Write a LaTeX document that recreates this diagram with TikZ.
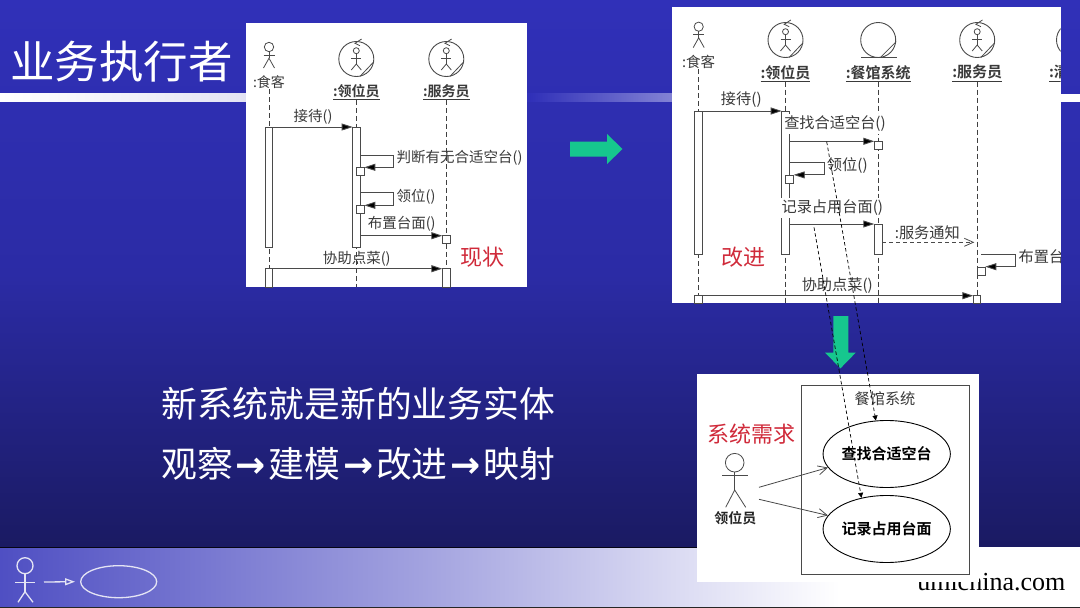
\documentclass[tikz,border=0pt]{standalone}
\usepackage{fontspec}
\setmainfont{Noto Sans CJK SC}[BoldFont={Noto Sans CJK SC Bold}]
\newfontfamily\latinserif{Liberation Serif}
\newfontfamily\arrowfont{DejaVu Sans}
\usetikzlibrary{arrows.meta,shapes.geometric,calc}
\definecolor{inkgrey}{HTML}{3A3A3A}
\definecolor{linegrey}{HTML}{4A4A4A}
\definecolor{redlabel}{HTML}{D02A3A}
\definecolor{teal}{HTML}{16C78E}
\definecolor{bgtop}{HTML}{3030B8}
\definecolor{bgbot}{HTML}{1A1A62}
\definecolor{pale}{HTML}{E4E4F4}
\tikzset{
  panel/.style={fill=white,draw=none,anchor=north west,inner sep=0pt,outer sep=0pt},
  msgtext/.style={font=\fontsize{14.5}{14.5}\selectfont,text=inkgrey,inner sep=0.5pt},
  msgbig/.style={font=\fontsize{15.2}{15.2}\selectfont,text=inkgrey,inner sep=0.5pt},
  msgmask/.style={msgbig,fill=white,inner xsep=1pt,inner ysep=2pt},
  headtext/.style={font=\fontsize{14}{14}\selectfont\bfseries,text=inkgrey,inner sep=0pt},
  headbig/.style={font=\fontsize{15}{15}\selectfont\bfseries,text=inkgrey,inner sep=0pt},
  redtext/.style={font=\fontsize{22}{22}\selectfont,text=redlabel,inner sep=0pt},
  whitetext/.style={text=white,inner sep=0pt,anchor=west},
  lifeline/.style={draw=black!75,line width=0.7pt,dash pattern=on 5pt off 3pt},
  actbar/.style={draw=linegrey,line width=0.9pt,fill=white,anchor=north west,inner sep=0pt,outer sep=0pt},
  callbox/.style={actbar,minimum width=8pt,minimum height=8pt},
  msg/.style={draw=linegrey,line width=0.9pt,-{Triangle[length=11pt,width=7pt,fill=black]}},
  iconline/.style={draw=linegrey,line width=0.8pt},
  trace/.style={draw=black,line width=0.7pt,dash pattern=on 3.5pt off 2.5pt,-{Triangle[length=5pt,width=5pt,fill=black]}},
  openmsg/.style={draw=linegrey,line width=0.8pt,dash pattern=on 4pt off 3pt},
  usearrow/.style={draw=linegrey,line width=0.8pt,-{Straight Barb[length=9pt,width=9pt]}},
  usecase/.style={ellipse,draw=black,line width=0.9pt,minimum width=98.6pt,minimum height=67pt,inner sep=0pt,
    font=\fontsize{15}{15}\selectfont\bfseries,text=black},
  footline/.style={draw=pale,line width=1.3pt},
  greenarrow/.style={fill=teal,draw=none},
}
% stick figure: #1 x, #2 y of head centre, #3 head radius, #4 style
\newcommand{\stickfig}[4]{%
  \draw[#4] (#1,#2) circle[radius=#3];
  \draw[#4] (#1,#2+#3) -- (#1,#2+#3+6.5);
  \draw[#4] (#1-5.5,#2+#3+3.3) -- (#1+5.5,#2+#3+3.3);
  \draw[#4] (#1-5.5,#2+#3+16.3) -- (#1,#2+#3+6.5) -- (#1+5.5,#2+#3+16.3);
}
% business worker icon
\newcommand{\workericon}[3]{%
  \node[circle,draw=linegrey,line width=0.9pt,minimum size=35pt,inner sep=0pt] (#1) at (#2,#3) {};
  \draw[iconline] (#2+5.3,#3-20) -- (#2-1.3,#3-15.7) -- (#2+3.7,#3-13.3);
  \draw[iconline] (#2+3.7,#3+17.4) -- (#2+17.6,#3+2.7);
  \draw[iconline] (#2,#3-8.3) circle[radius=3];
  \draw[iconline] (#2,#3-5.3) -- (#2,#3+5) (#2-5,#3-0.7) -- (#2+5,#3-0.7);
  \draw[iconline] (#2-5,#3+11) -- (#2,#3+5) -- (#2+5,#3+11);
}
\newcommand{\bigarrow}{\makebox[35.8pt]{\arrowfont\bfseries\fontsize{36}{36}\selectfont →}}
\begin{document}
\begin{tikzpicture}[x=1pt,y=-1pt]
\useasboundingbox (0,0) rectangle (1080,608);
% background
\shade[top color=bgtop,bottom color=bgbot,middle color=bgtop!78!bgbot] (0,0) rectangle (1080,548);
% title band
\shade[left color=white,right color=pale] (0,93.5) rectangle (240,101.5);
\shade[left color=pale,right color=bgtop] (240,93.5) rectangle (530,101.5);
\shade[left color=bgtop,right color=bgtop!60!white] (530,93.5) rectangle (672,101.5);
\shade[left color=bgtop!60!white,right color=white] (672,93.5) rectangle (1060,101.5);
\fill[white] (1060,93.5) rectangle (1080,101.5);
% footer
\fill[white] (0,547) rectangle (1080,607);
\shade[left color=bgtop!85!white,right color=white,middle color=bgtop!45!white] (0,547) rectangle (840,607);
\draw[black!80!bgbot,line width=0.8pt] (0,547) -- (840,547);
\draw[black!85,line width=1pt] (0,607) -- (1080,607);
\draw[footline] (25,565.7) circle[radius=8];
\draw[footline] (25,573.7) -- (25,591.7) (15,582.3) -- (35,582.3);
\draw[footline] (18,602.3) -- (25,591.7) -- (33,602.3);
\coordinate (footstart) at (44,582);
\node[ellipse,draw=pale,line width=1.3pt,minimum width=76pt,minimum height=32pt,inner sep=0pt] (footcase) at (118.7,581.7) {};
\draw[footline,-{Triangle[open,length=10pt,width=7pt]}] (footstart) -- ($(footcase.west)+(-5,0)$);
\node[anchor=base east,inner sep=0pt,font=\latinserif\fontsize{26}{26}\selectfont,text=black] (brand) at (1065.5,590.5) {umlchina.com};
% title and body text
\node[whitetext,font=\fontsize{44.5}{44.5}\selectfont] (title) at (10,62) {业务执行者};
\node[whitetext,font=\fontsize{35.8}{36}\selectfont] (lineone) at (161,404) {新系统就是新的业务实体};
\node[whitetext,font=\fontsize{35.8}{36}\selectfont] (linetwo) at (161,463.5) {观察\bigarrow 建模\bigarrow 改进\bigarrow 映射};
% green arrows
\fill[greenarrow] (570,141.5) -- (607,141.5) -- (607,134) -- (622.5,149) -- (607,164) -- (607,156.5) -- (570,156.5) -- cycle;
% ===== panel A =====
\node[panel,minimum width=280.5pt,minimum height=264pt] (pa) at (246,23) {};
\stickfig{269}{47}{4.7}{iconline}
\node[msgtext,font=\fontsize{14}{14}\selectfont] (pa1) at (269,82) {:食客};
\workericon{pa2i}{356.3}{59}
\node[headtext] (pa2) at (356.3,92) {\underline{:领位员}};
\workericon{pa3i}{446.3}{59}
\node[headtext] (pa3) at (446.3,92) {\underline{:服务员}};
\draw[lifeline] (pa1.south) -- (pa1.south |- pa.south);
\draw[lifeline] (pa2.south) -- (pa2.south |- pa.south);
\draw[lifeline] (pa3.south) -- (pa3.south |- pa.south);
\node[actbar,minimum width=7.6pt,minimum height=120pt] (pab1) at (265.3,127) {};
\node[actbar,minimum width=7.6pt,minimum height=120pt] (pab2) at (352.6,127) {};
\node[actbar,minimum width=7.6pt,minimum height=18.3pt] (pab3) at (265.3,268.7) {};
\node[actbar,minimum width=8pt,minimum height=18.3pt] (pab4) at (442.3,268.7) {};
\node[callbox] (pac1) at (356.3,167.5) {};
\node[callbox] (pac2) at (356.3,205.5) {};
\node[callbox] (pac3) at (442.3,235.7) {};
\draw[msg] (pab1.north east) -- (pab2.north west);
\node[msgtext] (pam1) at (313,117) {接待()};
\coordinate (pas1) at (360.2,155);
\coordinate (pat1) at (393.7,155);
\draw[msg] (pas1) -- (pat1) |- ($(pac1.north east)+(0,-0.2)$);
\node[msgtext,anchor=west] (pam2) at (396,158) {判断有无合适空台()};
\coordinate (pas2) at (360.2,192.7);
\coordinate (pat2) at (393.7,192.7);
\draw[msg] (pas2) -- (pat2) |- ($(pac2.north east)+(0,-0.2)$);
\node[msgtext,anchor=west] (pam3) at (396,197) {领位()};
\node[msgtext] (pam4) at (401.7,223.7) {布置台面()};
\coordinate (pas3) at (360.2,235.7);
\draw[msg] (pas3) -- (pac3.north west);
\node[msgtext] (pam5) at (356.7,259) {协助点菜()};
\draw[msg] (pab3.north east) -- (pab4.north west);
\node[redtext] (pared) at (482.7,257) {现状};
% ===== panel B =====
\node[panel,minimum width=388.5pt,minimum height=296.5pt] (pb) at (672.3,6.8) {};
\stickfig{698.7}{26.7}{4.6}{iconline}
\node[msgbig,font=\fontsize{14.5}{14.5}\selectfont] (pb1) at (698.7,62) {:食客};
\workericon{pb2i}{785.5}{40}
\node[headbig] (pb2) at (785.5,73.3) {\underline{:领位员}};
\node[circle,draw=linegrey,line width=0.9pt,minimum size=35pt,inner sep=0pt] (pb3i) at (878.2,40) {};
\draw[iconline] (861,57.7) -- (896.7,57.7);
\draw[iconline] (880.2,57.7) -- (896.2,41.7);
\node[headbig] (pb3) at (878.2,73.3) {\underline{:餐馆系统}};
\workericon{pb4i}{977.2}{40}
\node[headbig] (pb4) at (977.2,73.3) {\underline{:服务员}};
\begin{scope}
  \clip (1030,0) rectangle (1060.7,303);
  \workericon{pb5i}{1074}{40}
  \node[headbig] (pb5) at (1074,73.3) {\underline{:清洁员}};
\end{scope}
\draw[lifeline] (pb1.south) -- (pb1.south |- pb.south);
\draw[lifeline] (pb2.south) -- (pb2.south |- pb.south);
\draw[lifeline] (pb3.south) -- (pb3.south |- pb.south);
\draw[lifeline] (pb4.south) -- (pb4.south |- pb.south);
\node[actbar,minimum width=8pt,minimum height=143.3pt] (pbb1) at (694.7,111) {};
\node[actbar,minimum width=7.6pt,minimum height=143.3pt] (pbb2) at (781.7,111) {};
\node[actbar,minimum width=8pt,minimum height=7.6pt] (pbb3) at (694.7,295.7) {};
\node[actbar,minimum width=8pt,minimum height=30.3pt] (pbb4) at (874.3,224) {};
\node[actbar,minimum width=7.4pt,minimum height=7.6pt] (pbb5) at (973.3,295.7) {};
\node[callbox] (pbc1) at (874.3,141.3) {};
\node[callbox] (pbc2) at (785.7,175.3) {};
\node[callbox] (pbc3) at (977.3,267.3) {};
\draw[msg] (pbb1.north east) -- (pbb2.north west);
\node[msgbig] (pbm1) at (741.3,100) {接待()};
\node[msgmask] (pbm2) at (835,124) {查找合适空台()};
\coordinate (pbs1) at (789.3,141.3);
\draw[msg] (pbs1) -- (pbc1.north west);
\coordinate (pbs2) at (789.3,162.3);
\coordinate (pbt2) at (824,162.3);
\draw[msg] (pbs2) -- (pbt2) |- ($(pbc2.north east)+(0,-0.4)$);
\node[msgbig] (pbm3) at (847.3,165.7) {领位()};
\node[msgmask] (pbm4) at (832.3,208) {记录占用台面()};
\coordinate (pbs3) at (789.3,224);
\draw[msg] (pbs3) -- (pbb4.north west);
\coordinate (pbs4) at (882.3,242.3);
\coordinate (pbe4) at (973.3,242.3);
\draw[openmsg] (pbs4) -- (pbe4);
\draw[iconline] ($(pbe4)+(-9,-4)$) -- (pbe4) -- ($(pbe4)+(-9,4)$);
\node[msgbig] (pbm5) at (927.3,232.3) {:服务通知};
\coordinate (pbs5) at (981,254.3);
\coordinate (pbt5) at (1015.7,254.3);
\draw[msg] (pbs5) -- (pbt5) |- ($(pbc3.north east)+(0,-0.6)$);
\begin{scope}
  \clip (1010,240) rectangle (1060.7,280);
  \node[msgbig,anchor=west] (pbm6) at (1018,257.7) {布置台面()};
\end{scope}
\node[msgbig] (pbm7) at (837.3,285.7) {协助点菜()};
\draw[msg] (pbb3.north east) -- (pbb5.north west);
\node[redtext] (pbred) at (743.7,256.7) {改进};
% ===== panel C =====
\fill[greenarrow] (833.3,316) -- (848.3,316) -- (848.3,352.7) -- (855.7,352.7) -- (840.5,368.3) -- (825,352.7) -- (833.3,352.7) -- cycle;
\node[panel,minimum width=281.4pt,minimum height=207.7pt] (pc) at (697.3,374) {};
\node[panel,fill=white,draw=linegrey,line width=0.9pt,minimum width=167.6pt,minimum height=188.6pt] (pcs) at (801.7,385.7) {};
\node[msgbig] (pcn) at (885,399) {餐馆系统};
\node[redtext] (pcred) at (751.7,434) {系统需求};
\draw[iconline] (734.7,462.7) circle[radius=9.3];
\draw[iconline] (734.7,472) -- (734.7,490) (722.3,475.7) -- (748,475.7);
\draw[iconline] (725.7,507.3) -- (734.7,490) -- (745.7,507.3);
\node[headtext,text=black!85] (pcact) at (735.3,518.3) {领位员};
\node[usecase] (uca) at (886.7,454) {查找合适空台};
\node[usecase] (ucb) at (886.7,529) {记录占用台面};
\coordinate (pca1) at (759,487.3);
\coordinate (pca2) at (759,499.3);
\draw[usearrow] (pca1) -- (uca.193);
\draw[usearrow] (pca2) -- (ucb.167);
% trace lines over everything
\coordinate (tr1) at (826.7,141.7);
\coordinate (tr2) at (814,227.3);
\draw[trace] (tr1) -- (uca.108);
\draw[trace] (tr2) -- (ucb.129);
\end{tikzpicture}
\end{document}
